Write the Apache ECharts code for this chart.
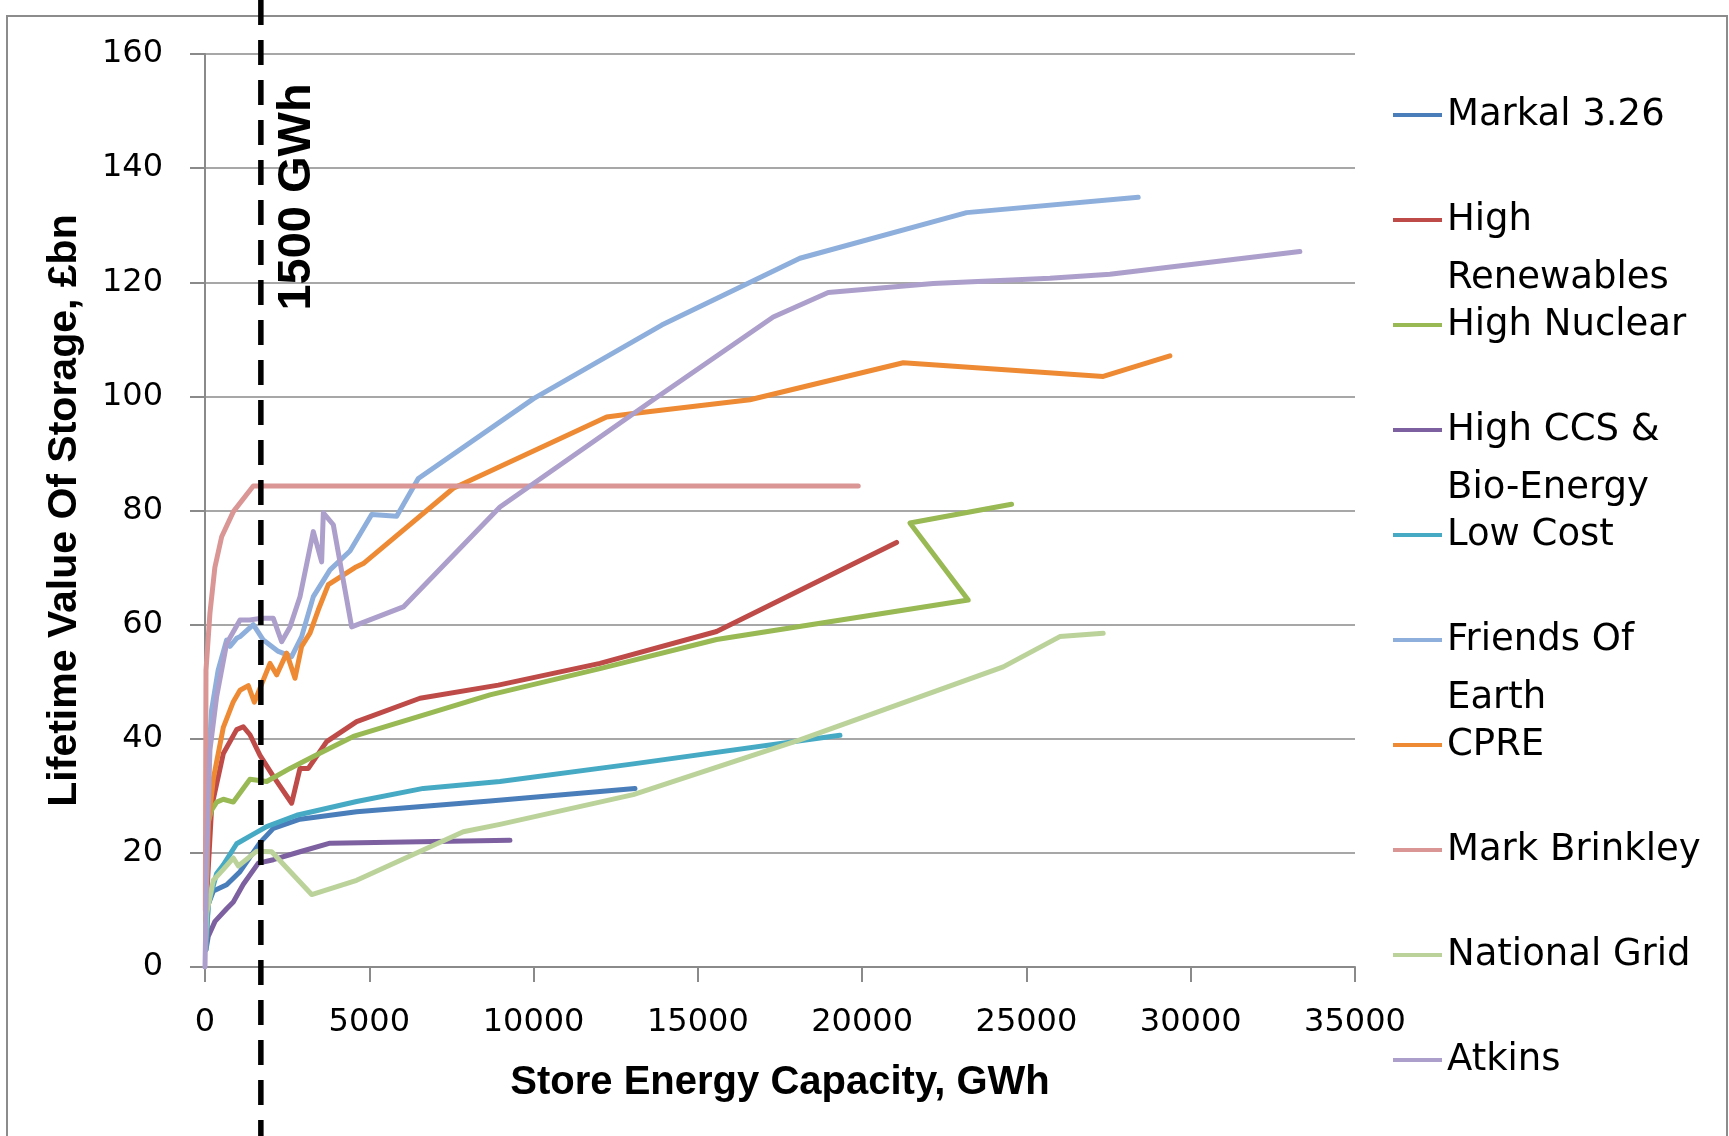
<!DOCTYPE html>
<html>
<head>
<meta charset="utf-8">
<script src="https://cdn.jsdelivr.net/npm/echarts@6/dist/echarts.min.js"></script>
<style>
html,body{margin:0;padding:0;background:#fff;}
#chart{width:1729px;height:1136px;}
</style>
</head>
<body>
<div id="chart"></div>
<script>
// ---- data (x = store energy capacity GWh, y = lifetime value £bn) ----
const seriesNames = ['Markal 3.26','High Renewables','High Nuclear','High CCS & Bio-Energy','Low Cost','Friends Of Earth','CPRE','Mark Brinkley','National Grid','Atkins'];

const markal = [[30,5],[100,11],[254,13.3],[659,14.4],[1065,16.7],[1674,21.8],[2080,24.3],[2891,25.9],[4615,27.2],[8672,29.1],[13086,31.3]];
const highRenewables = [[20,5],[51,12.3],[203,28.1],[558,37.4],[963,41.6],[1166,42.1],[1369,40.7],[1674,37.1],[2080,33.4],[2637,28.7],[2891,34.8],[3145,34.8],[3702,39.5],[4615,43.0],[6543,47.1],[8926,49.4],[12020,53.2],[15570,58.8],[21048,74.4]];
const highNuclear = [[40,12],[80,25],[200,27.5],[355,28.9],[558,29.4],[863,28.9],[1369,32.9],[1877,32.5],[2587,34.8],[3297,36.9],[4514,40.4],[8672,47.7],[12020,52.3],[15570,57.4],[23228,64.3],[21454,77.8],[24548,81.1]];
const highCCS = [[30,3],[101,5.4],[304,8.0],[659,10.2],[862,11.4],[1166,14.5],[1623,18.2],[2080,18.8],[2891,20.2],[3804,21.7],[9281,22.2]];
const lowCost = [[30,3],[100,11],[355,16.4],[558,17.9],[963,21.6],[1420,23.1],[1877,24.6],[2789,26.6],[4615,29.0],[6644,31.3],[8977,32.5],[13035,35.6],[19325,40.6]];
const friendsOfEarth = [[20,10],[80,33],[200,45],[400,52],[659,57.3],[761,56.2],[963,57.6],[1065,57.9],[1471,60],[1775,57.3],[2232,55.3],[2637,54.4],[2941,57.9],[3297,64.9],[3804,69.6],[4412,72.9],[5073,79.3],[5833,79.0],[6492,85.6],[10000,99.6],[13900,112.5],[18105,124.2],[23178,132.2],[28402,134.9]];
const cpre = [[20,8],[100,25],[254,33],[558,42],[862,46.5],[1065,48.5],[1318,49.3],[1501,46.4],[1979,53.2],[2181,51.2],[2485,55.0],[2739,50.6],[2941,56.2],[3195,58.5],[3449,62.6],[3753,67.0],[4564,70.0],[4818,70.7],[7557,83.9],[12223,96.4],[13035,97.0],[16585,99.4],[21251,105.9],[27337,103.5],[29366,107.1]];
const markBrinkley = [[10,10],[30,52],[150,62],[300,70],[507,75.4],[863,79.8],[1470,84.3],[19881,84.3]];
const nationalGrid = [[20,5],[51,9.4],[254,15.2],[558,17.1],[862,19.1],[1015,17.7],[1572,20.3],[2029,20.2],[3246,12.7],[4615,15.2],[7861,23.7],[8977,25.0],[13035,30.2],[18105,39.8],[24294,52.6],[26017,57.9],[27336,58.5]];
const atkins = [[0,0],[60,20],[150,38],[355,47.4],[659,56.7],[1065,60.8],[1369,60.8],[1674,61.1],[2080,61.1],[2333,57.0],[2587,59.6],[2891,64.9],[3297,76.3],[3550,71.0],[3601,79.6],[3905,77.5],[4463,59.6],[6036,63.1],[8977,80.6],[13644,99.4],[17294,113.9],[18968,118.2],[22163,119.8],[25714,120.7],[27540,121.4],[33322,125.4]];

const seriesData = [markal, highRenewables, highNuclear, highCCS, lowCost, friendsOfEarth, cpre, markBrinkley, nationalGrid, atkins];
const seriesColors = ['#4A7EBB','#BE4B48','#98B954','#7D60A0','#46AAC5','#8EAFDC','#EE8A33','#D99694','#BBD39A','#AD9FCB'];

const xTicks = [0,5000,10000,15000,20000,25000,30000,35000];
const yTicks = [0,20,40,60,80,100,120,140,160];
const markerX = 1700;          // position of the dashed "1500 GWh" marker on the x axis
const markerLabel = '1500 GWh';

const legendWrap = {
  'High Renewables': ['High','Renewables'],
  'High CCS & Bio-Energy': ['High CCS &','Bio-Energy'],
  'Friends Of Earth': ['Friends Of','Earth']
};

const chart = echarts.init(document.getElementById('chart'), null, {renderer:'canvas'});
const gridCol = '#8a8a8a';
const tickFont = {fontFamily:'DejaVu Sans', fontSize:32, color:'#000'};
const xTitleFont = {fontFamily:'Liberation Sans', fontWeight:'bold', fontSize:40, color:'#000'};
const yTitleFont = {fontFamily:'Liberation Sans', fontWeight:'bold', fontSize:41, color:'#000'};

const option = {
  animation:false,
  backgroundColor:'#fff',
  grid:{left:205, right:374, top:54, bottom:169, containLabel:false},
  xAxis:{
    type:'value', min:xTicks[0], max:xTicks[xTicks.length-1], interval:5000,
    name:'Store Energy Capacity, GWh', nameLocation:'middle', nameGap:96,
    nameTextStyle:xTitleFont,
    axisLine:{show:true, onZero:false, lineStyle:{color:gridCol, width:2}},
    axisTick:{show:true, length:15, lineStyle:{color:gridCol, width:2}},
    axisLabel:Object.assign({margin:40, formatter:function(v){return String(v);}}, tickFont),
    splitLine:{show:false}
  },
  yAxis:{
    type:'value', min:yTicks[0], max:yTicks[yTicks.length-1], interval:20,
    name:'Lifetime Value Of Storage, £bn', nameLocation:'middle', nameGap:120,
    nameTextStyle:yTitleFont,
    axisLine:{show:true, lineStyle:{color:gridCol, width:2}},
    axisTick:{show:true, length:15, lineStyle:{color:gridCol, width:2}},
    axisLabel:Object.assign({margin:42, formatter:function(v){return String(v);}}, tickFont),
    splitLine:{show:true, lineStyle:{color:gridCol, width:1.5}}
  },
  legend:{
    orient:'vertical', left:1393, top:28, padding:0, height:1400,
    itemWidth:49, itemHeight:4, itemGap:-69, icon:'rect',
    data:seriesNames,
    formatter:function(n){ const p = legendWrap[n] || [n,' ']; return ' \n' + p.join('\n'); },
    textStyle:{fontFamily:'DejaVu Sans', fontSize:37, color:'#000', lineHeight:58}
  },
  series:seriesNames.map(function(n,i){
    return {
      name:n, type:'line', data:seriesData[i], showSymbol:false, symbol:'none',
      color:seriesColors[i],
      lineStyle:{width:5, color:seriesColors[i], join:'round', cap:'round'},
      z:2+i
    };
  })
};
chart.setOption(option);

const px = chart.convertToPixel({xAxisIndex:0}, markerX);
chart.setOption({
  graphic:[
    {type:'rect', z:0, silent:true, shape:{x:7, y:16, width:1720, height:1300},
     style:{fill:'none', stroke:'#8c8c8c', lineWidth:2}},
    {type:'line', z:100, silent:true, shape:{x1:px, y1:0, x2:px, y2:1136},
     style:{stroke:'#000', lineWidth:5.5, lineDash:[25,15]}},
    {type:'text', z:100, silent:true, x:px+36, y:197, rotation:Math.PI/2,
     style:{text:markerLabel, fontFamily:'Liberation Sans', fontWeight:'bold', fontSize:47,
            fill:'#000', align:'center', verticalAlign:'middle'}}
  ]
});
</script>
</body>
</html>
